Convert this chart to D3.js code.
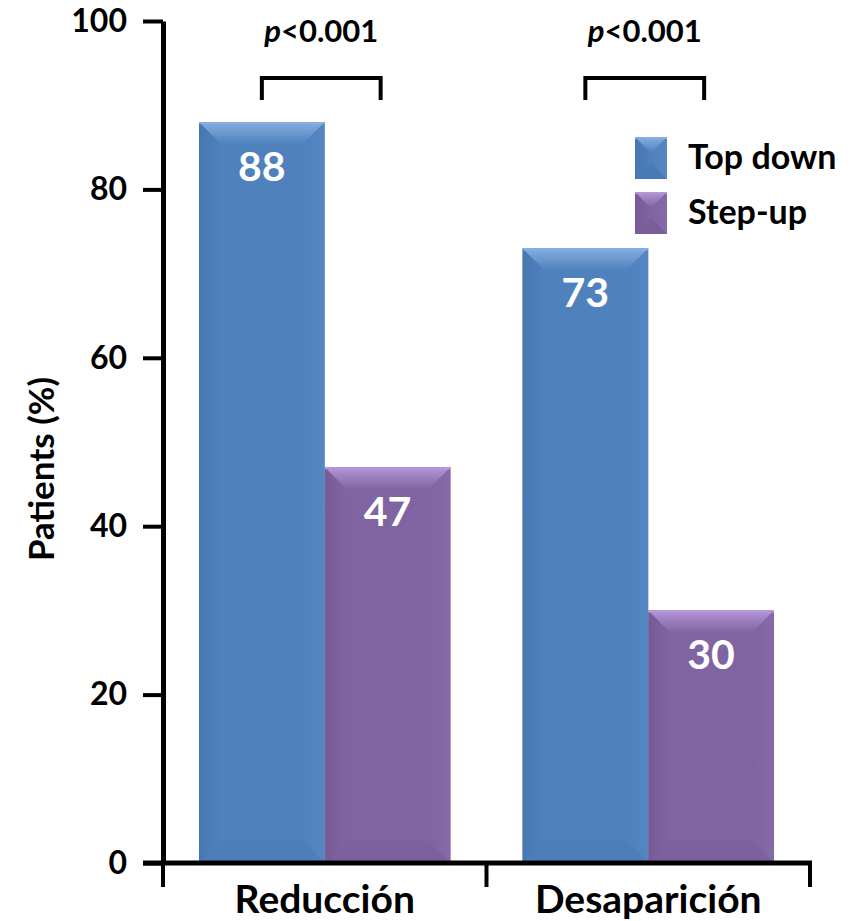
<!DOCTYPE html>
<html>
<head>
<meta charset="utf-8">
<script src="https://cdn.jsdelivr.net/npm/d3@7"></script>
<style>
  html, body { margin: 0; padding: 0; background: #fff; }
  svg text { font-family: Lato, "Open Sans", sans-serif; font-weight: bold; }
</style>
</head>
<body>
<svg id="chart" width="857" height="921"></svg>
<script>
// Outcome categories and treatment strategies
const categories = ["Reducción", "Desaparición"];
const seriesNames = ["Top down", "Step-up"];
const topDownValues = [88, 73];
const stepUpValues = [47, 30];
const yTicks = [0, 20, 40, 60, 80, 100];
const pLabels = ["<0.001", "<0.001"];

const palette = {
  "Top down": { base: "#4F81BD", light: "#86AEE0", dark: "#3F6DA5", side: "#5A8CC8" },
  "Step-up":  { base: "#8064A2", light: "#B596D8", dark: "#6A5189", side: "#8A6EAE" }
};

const rows = categories.map((c, i) => ({
  category: c,
  values: [
    { series: "Top down", value: topDownValues[i] },
    { series: "Step-up", value: stepUpValues[i] }
  ]
}));

const svg = d3.select("#chart");
const axisX = 163, axisBottom = 863, axisTop = 21, axisRight = 810;

const y = d3.scaleLinear().domain([0, 100]).range([axisBottom, axisTop]);
const x0 = d3.scaleBand().domain(categories).range([axisX, axisRight]).padding(0);
const x1 = d3.scaleBand().domain(seriesNames).range([0, x0.bandwidth()])
  .paddingInner(0).paddingOuter(0.286);

// Gradients for the bevelled faces
const defs = svg.append("defs");
seriesNames.forEach((s, i) => {
  const p = palette[s];
  const gTop = defs.append("linearGradient").attr("id", "top" + i)
    .attr("x1", 0).attr("y1", 0).attr("x2", 0).attr("y2", 1);
  gTop.append("stop").attr("offset", 0).attr("stop-color", p.light);
  gTop.append("stop").attr("offset", 1).attr("stop-color", p.base);
  const gLeft = defs.append("linearGradient").attr("id", "left" + i)
    .attr("x1", 0).attr("y1", 0).attr("x2", 1).attr("y2", 0);
  gLeft.append("stop").attr("offset", 0).attr("stop-color", p.dark);
  gLeft.append("stop").attr("offset", 1).attr("stop-color", p.base);
  const gRight = defs.append("linearGradient").attr("id", "right" + i)
    .attr("x1", 0).attr("y1", 0).attr("x2", 1).attr("y2", 0);
  gRight.append("stop").attr("offset", 0).attr("stop-color", p.base);
  gRight.append("stop").attr("offset", 1).attr("stop-color", p.side);
});

// Draws a bevelled box: flat face plus four sloped edges
function bevelBox(g, x0p, y0p, w, h, b, si, bottomOpacity) {
  const p = palette[seriesNames[si]];
  const x1p = x0p + w, y1p = y0p + h;
  const pts = a => a.map(d => d.join(",")).join(" ");
  g.append("rect").attr("x", x0p).attr("y", y0p).attr("width", w).attr("height", h)
    .attr("fill", p.base);
  g.append("polygon").attr("points", pts([[x0p, y0p], [x0p + b, y0p + b], [x0p + b, y1p - b], [x0p, y1p]]))
    .attr("fill", `url(#left${si})`).attr("opacity", 0.5);
  g.append("polygon").attr("points", pts([[x1p, y0p], [x1p - b, y0p + b], [x1p - b, y1p - b], [x1p, y1p]]))
    .attr("fill", `url(#right${si})`).attr("opacity", 0.5);
  g.append("polygon").attr("points", pts([[x0p, y1p], [x0p + b, y1p - b], [x1p - b, y1p - b], [x1p, y1p]]))
    .attr("fill", p.dark).attr("opacity", bottomOpacity);
  g.append("polygon").attr("points", pts([[x0p, y0p], [x1p, y0p], [x1p - b, y0p + b], [x0p + b, y0p + b]]))
    .attr("fill", `url(#top${si})`);
  g.append("line").attr("x1", x0p).attr("x2", x1p).attr("y1", y0p + 1).attr("y2", y0p + 1)
    .attr("stroke", p.light).attr("stroke-width", 2);
}

// Bars
const groups = svg.append("g").selectAll("g").data(rows).join("g")
  .attr("transform", d => `translate(${x0(d.category)},0)`);

groups.each(function (d) {
  const g = d3.select(this);
  d.values.forEach(v => {
    const si = seriesNames.indexOf(v.series);
    const bx = x1(v.series), by = y(v.value);
    bevelBox(g, bx, by, x1.bandwidth(), y(0) - by, 22, si, 0.12);
    g.append("text")
      .attr("x", bx + x1.bandwidth() / 2)
      .attr("y", by + 59)
      .attr("text-anchor", "middle")
      .attr("fill", "#fff")
      .attr("font-size", 41)
      .text(v.value);
  });
});

// Y axis
const yAxis = svg.append("g").attr("transform", `translate(${axisX},0)`)
  .call(d3.axisLeft(y).tickValues(yTicks).tickSize(20).tickPadding(16).tickSizeOuter(0));
yAxis.select(".domain").attr("stroke", "#000").attr("stroke-width", 5);
yAxis.selectAll(".tick line").attr("stroke", "#000").attr("stroke-width", 4);
yAxis.selectAll(".tick text").attr("font-size", 32).attr("fill", "#000")
  .attr("font-family", "Lato, sans-serif").attr("font-weight", "bold");

// X axis with boundary ticks between categories
svg.append("line").attr("x1", axisX - 20).attr("x2", axisRight + 2)
  .attr("y1", axisBottom).attr("y2", axisBottom)
  .attr("stroke", "#000").attr("stroke-width", 5);
const boundaries = categories.map(c => x0(c)).concat([x0(categories[categories.length - 1]) + x0.bandwidth()]);
svg.append("g").selectAll("line").data(boundaries).join("line")
  .attr("x1", d => d).attr("x2", d => d)
  .attr("y1", axisBottom).attr("y2", axisBottom + 24)
  .attr("stroke", "#000").attr("stroke-width", 4);
svg.append("g").selectAll("text").data(categories).join("text")
  .attr("x", d => x0(d) + x0.bandwidth() / 2)
  .attr("y", 913)
  .attr("text-anchor", "middle")
  .attr("font-size", 39)
  .attr("fill", "#000")
  .text(d => d);

// Y axis title
svg.append("text")
  .attr("transform", `translate(54,${(axisTop + axisBottom) / 2 + 27}) rotate(-90)`)
  .attr("text-anchor", "middle")
  .attr("font-size", 35)
  .attr("fill", "#000")
  .text("Patients (%)");

// Significance brackets
rows.forEach((d, i) => {
  const left = x0(d.category) + x1("Top down") + x1.bandwidth() / 2;
  const right = x0(d.category) + x1("Step-up") + x1.bandwidth() / 2 - 7;
  svg.append("path")
    .attr("d", `M${left},100 V78 H${right} V100`)
    .attr("fill", "none").attr("stroke", "#000").attr("stroke-width", 4);
  const t = svg.append("text")
    .attr("x", (left + right) / 2)
    .attr("y", 42)
    .attr("text-anchor", "middle")
    .attr("font-size", 31)
    .attr("fill", "#000");
  t.append("tspan").attr("font-style", "italic").text("p");
  t.append("tspan").text(pLabels[i]);
});

// Legend
const legend = svg.append("g");
seriesNames.forEach((s, i) => {
  const ly = 137 + i * 55;
  const lg = legend.append("g");
  bevelBox(lg, 635, ly, 32, 42, 16, i, 0.35);
  lg.append("text")
    .attr("x", 688)
    .attr("y", ly + 32)
    .attr("font-size", 34)
    .attr("fill", "#000")
    .text(s);
});
</script>
</body>
</html>
